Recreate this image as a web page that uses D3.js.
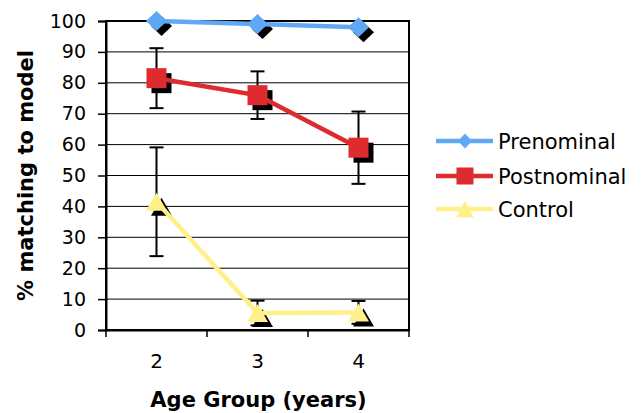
<!DOCTYPE html>
<html><head><meta charset="utf-8">
<script src="https://cdn.jsdelivr.net/npm/d3@7"></script>
<style>body{margin:0;background:#fff;}svg{display:block;font-family:"DejaVu Sans",Verdana,sans-serif;}</style>
</head><body><svg id="c" width="643" height="413"></svg>
<script>
const categories = ["2", "3", "4"];
const seriesNames = ["Prenominal", "Postnominal", "Control"];
const prenominal = [100, 99, 98];
const postnominal = [81.5, 76, 59];
const control = [41.5, 5.5, 5.7];
const postnominalErr = [9.7, 7.7, 11.7];
const controlErr = [17.6, 4, 3.7];
const prenominalErr = [0, 0, 0];
const yTicks = [0, 10, 20, 30, 40, 50, 60, 70, 80, 90, 100];

const colors = ["#5fa8f5", "#dd2b30", "#fff08a"];
// marker path generators (w = width, h = height)
function marker(kind, w, h) {
  const a = w / 2, b = h / 2;
  if (kind === 0) return `M0,${-b}L${a},0L0,${b}L${-a},0Z`;
  if (kind === 1) return `M${-a},${-b}H${a}V${b}H${-a}Z`;
  return `M0,${-b}L${a},${b}H${-a}Z`;
}
const mSize = [[21, 20], [20, 20], [21, 18]];
const legSize = [[14, 15], [17, 17], [17, 17]];
const series = [
  {name: seriesNames[0], values: prenominal, err: prenominalErr},
  {name: seriesNames[1], values: postnominal, err: postnominalErr},
  {name: seriesNames[2], values: control, err: controlErr}
];

const svg = d3.select("#c");
const L = 106, R = 409, T = 21, B = 330;
const x = d3.scaleBand().domain(categories).range([L, R]);
const y = d3.scaleLinear().domain([0, 100]).range([B, T]);
const cx = c => x(c) + x.bandwidth() / 2;

// gridlines
svg.append("g").selectAll("line").data(yTicks).join("line")
  .attr("x1", L).attr("x2", R).attr("y1", d => y(d)).attr("y2", d => y(d))
  .attr("stroke", "#000").attr("stroke-width", 1);

// border
svg.append("rect").attr("x", L).attr("y", T).attr("width", R - L).attr("height", B - T)
  .attr("fill", "none").attr("stroke", "#000").attr("stroke-width", 2);

// y axis
const yAxis = svg.append("g").attr("transform", `translate(${L},0)`)
  .call(d3.axisLeft(y).tickValues(yTicks).tickSize(8).tickPadding(12));
yAxis.select(".domain").attr("stroke-width", 2);
yAxis.selectAll("line").attr("stroke-width", 1.5);
yAxis.selectAll("text").attr("font-size", 19).attr("fill", "#000").attr("font-family", "DejaVu Sans");

// x axis
const xAxis = svg.append("g").attr("transform", `translate(0,${B})`)
  .call(d3.axisBottom(x).tickSize(0).tickPadding(24));
xAxis.select(".domain").attr("stroke-width", 2);
xAxis.selectAll("text").attr("font-size", 20).attr("fill", "#000").attr("font-family", "DejaVu Sans");
const bounds = categories.map(c => x(c)).concat([x(categories[categories.length - 1]) + x.bandwidth()]);
svg.append("g").selectAll("line").data(bounds).join("line")
  .attr("x1", d => d).attr("x2", d => d).attr("y1", B).attr("y2", B + 7)
  .attr("stroke", "#000").attr("stroke-width", 1.5);

// axis titles
svg.append("text").attr("x", (L + R) / 2 + 1).attr("y", 407).attr("text-anchor", "middle")
  .attr("font-size", 21).attr("font-weight", "bold").text("Age Group (years)");
svg.append("text").attr("transform", `translate(33,${(T + B) / 2}) rotate(-90)`)
  .attr("text-anchor", "middle").attr("font-size", 21).attr("font-weight", "bold").text("% matching to model");

// error bars
series.forEach(s => {
  const g = svg.append("g");
  s.values.forEach((v, i) => {
    const e = s.err[i];
    if (!e) return;
    const xc = cx(categories[i]);
    g.append("line").attr("x1", xc).attr("x2", xc).attr("y1", y(v - e)).attr("y2", y(v + e))
      .attr("stroke", "#000").attr("stroke-width", 2);
    [v - e, v + e].forEach(t => g.append("line").attr("x1", xc - 7).attr("x2", xc + 7)
      .attr("y1", y(t)).attr("y2", y(t)).attr("stroke", "#000").attr("stroke-width", 2));
  });
});

// shadows
series.forEach((s, k) => {
  svg.append("g").selectAll("path").data(s.values).join("path")
    .attr("d", marker(k, mSize[k][0], mSize[k][1]))
    .attr("transform", (d, i) => `translate(${cx(categories[i]) + 5},${y(d) + 5})`)
    .attr("fill", "#000");
});

// lines and markers
const line = d3.line().x((d, i) => cx(categories[i])).y(d => y(d));
series.forEach((s, k) => {
  svg.append("path").datum(s.values).attr("d", line)
    .attr("fill", "none").attr("stroke", colors[k]).attr("stroke-width", 4.5);
  svg.append("g").selectAll("path").data(s.values).join("path")
    .attr("d", marker(k, mSize[k][0], mSize[k][1]))
    .attr("transform", (d, i) => `translate(${cx(categories[i])},${y(d)})`)
    .attr("fill", colors[k]);
});

// legend
const legY = [141, 176, 209];
series.forEach((s, k) => {
  const g = svg.append("g").attr("transform", `translate(0,${legY[k]})`);
  g.append("line").attr("x1", 436).attr("x2", 493).attr("y1", 0).attr("y2", 0)
    .attr("stroke", colors[k]).attr("stroke-width", 4.5);
  g.append("path").attr("d", marker(k, legSize[k][0], legSize[k][1]))
    .attr("transform", "translate(465,0)").attr("fill", colors[k]);
  g.append("text").attr("x", 498).attr("y", 0).attr("dy", "0.36em")
    .attr("font-size", 21).text(s.name);
});
</script></body></html>
